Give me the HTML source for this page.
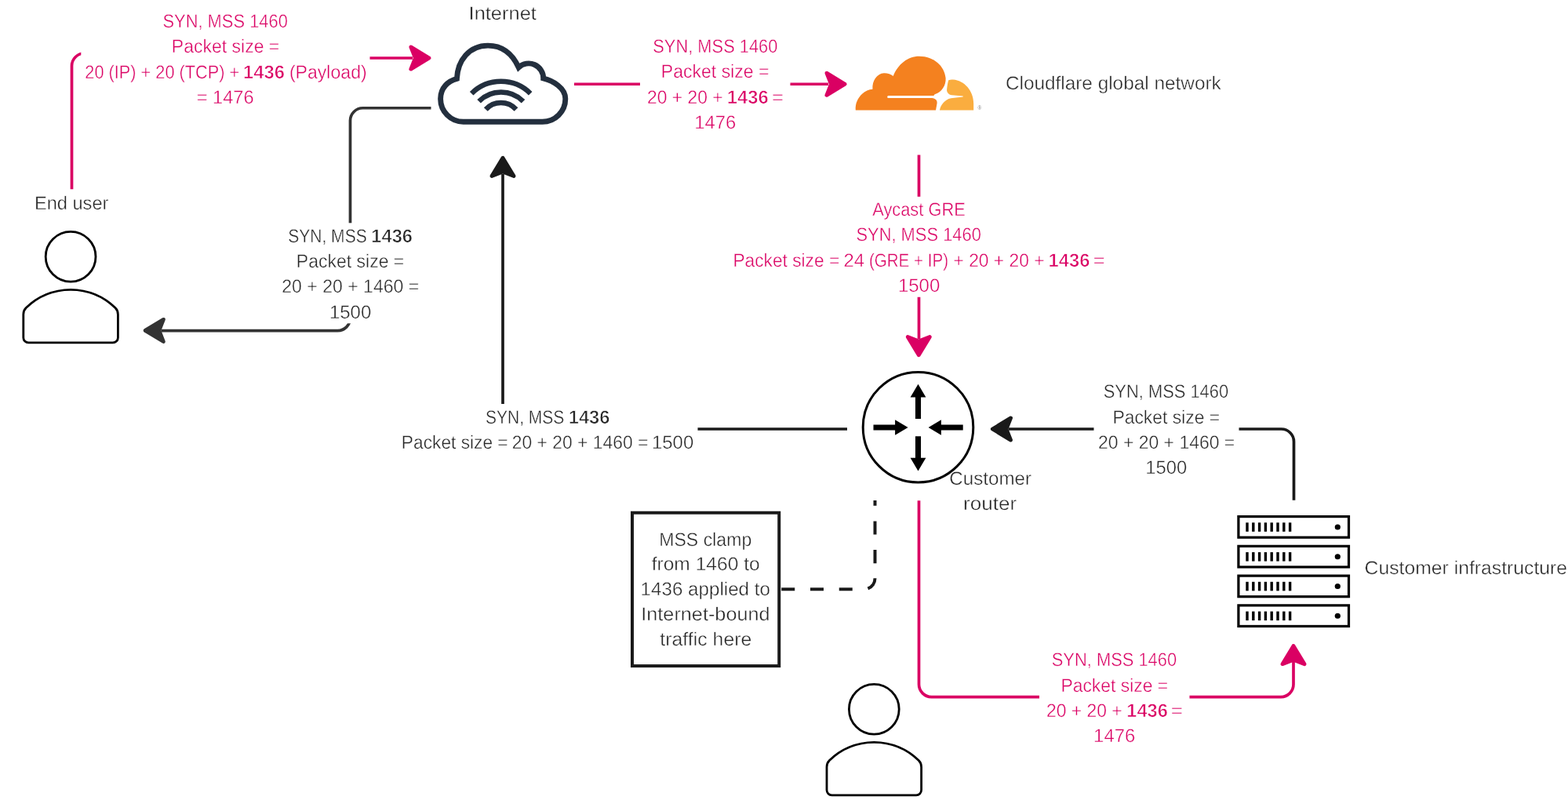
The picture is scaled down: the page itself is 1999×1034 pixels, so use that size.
<!DOCTYPE html>
<html lang="en">
<head>
<meta charset="utf-8">
<title>MSS clamping diagram</title>
<style>
html,body{margin:0;padding:0;background:#fff;}
body{width:1999px;height:1034px;overflow:hidden;}
svg{display:block;}
svg .t text{font-family:"Liberation Sans",sans-serif;font-size:23.9px;stroke:#fff;stroke-width:0.4px;text-rendering:geometricPrecision;}
svg .t tspan.b{font-weight:700;stroke-width:0.7px;}
svg{will-change:transform;}
</style>
</head>
<body>
<svg width="1999" height="1034" viewBox="0 0 1999 1034" role="img" aria-label="MSS clamping network diagram">
<rect width="1999" height="1034" fill="#fff"/>
<path d="M91.5 241.3 V84 A16 16 0 0 1 107.5 68 H120" fill="none" stroke="#DA0063" stroke-width="3.7" />
<rect x="103.3" y="40" width="30" height="40" fill="#fff"/>
<path d="M471.5 74 H526" fill="none" stroke="#DA0063" stroke-width="3.7" />
<path transform="translate(549.50 74.00) rotate(0)" d="M-2.4 0 L-25.7 -14.1 L-20.2 0 L-25.7 14.1 Z" fill="#DA0063" stroke="#DA0063" stroke-width="4.8" stroke-linejoin="round"/>
<path d="M549.5 137.75 H462.5 A16 16 0 0 0 446.5 153.75 V405.6 A16 16 0 0 1 430.5 421.6 H205.5" fill="none" stroke="#333333" stroke-width="3.7" />
<rect x="355" y="284.3" width="185" height="128" fill="#fff"/>
<path transform="translate(182.70 421.40) rotate(180)" d="M-2.4 0 L-25.7 -14.1 L-20.2 0 L-25.7 14.1 Z" fill="#333333" stroke="#333333" stroke-width="4.8" stroke-linejoin="round"/>
<path d="M732 107.25 H816" fill="none" stroke="#DA0063" stroke-width="3.7" />
<path d="M1007.5 107.25 H1056" fill="none" stroke="#DA0063" stroke-width="3.7" />
<path transform="translate(1079.60 107.25) rotate(0)" d="M-2.4 0 L-25.7 -14.1 L-20.2 0 L-25.7 14.1 Z" fill="#DA0063" stroke="#DA0063" stroke-width="4.8" stroke-linejoin="round"/>
<path d="M1171.5 197.5 V250.75" fill="none" stroke="#DA0063" stroke-width="3.7" />
<path d="M1171.5 378.75 V432" fill="none" stroke="#DA0063" stroke-width="3.7" />
<path transform="translate(1171.30 455.20) rotate(90)" d="M-2.4 0 L-25.7 -14.1 L-20.2 0 L-25.7 14.1 Z" fill="#DA0063" stroke="#DA0063" stroke-width="4.8" stroke-linejoin="round"/>
<path d="M1080 547 H889.5" fill="none" stroke="#1a1a1a" stroke-width="3.7" />
<path d="M641 515 V222" fill="none" stroke="#1a1a1a" stroke-width="3.7" />
<path transform="translate(641.00 198.80) rotate(270)" d="M-2.4 0 L-25.7 -14.1 L-20.2 0 L-25.7 14.1 Z" fill="#1a1a1a" stroke="#1a1a1a" stroke-width="4.8" stroke-linejoin="round"/>
<path d="M1649.5 637.75 V563 A16 16 0 0 0 1633.5 547 H1579.5" fill="none" stroke="#1a1a1a" stroke-width="3.7" />
<path d="M1394.5 547 H1286" fill="none" stroke="#1a1a1a" stroke-width="3.7" />
<path transform="translate(1262.90 547.00) rotate(180)" d="M-2.4 0 L-25.7 -14.1 L-20.2 0 L-25.7 14.1 Z" fill="#1a1a1a" stroke="#1a1a1a" stroke-width="4.8" stroke-linejoin="round"/>
<path d="M1171.5 638.25 V872.6 A16 16 0 0 0 1187.5 888.6 H1325" fill="none" stroke="#DA0063" stroke-width="3.7" />
<path d="M1516.5 888.6 H1633 A16 16 0 0 0 1649 872.6 V844" fill="none" stroke="#DA0063" stroke-width="3.7" />
<path transform="translate(1649.00 821.00) rotate(270)" d="M-2.4 0 L-25.7 -14.1 L-20.2 0 L-25.7 14.1 Z" fill="#DA0063" stroke="#DA0063" stroke-width="4.8" stroke-linejoin="round"/>
<path d="M996.25 751.3 H1101.5 A14 14 0 0 0 1115.5 737.3" fill="none" stroke="#1a1a1a" stroke-width="4" stroke-dasharray="17 19.75"/>
<path d="M1115.5 718.2 V700.9 M1115.5 681.6 V664.4 M1115.5 644.7 V638" fill="none" stroke="#1a1a1a" stroke-width="4"/>
<rect x="806" y="653.75" width="187.25" height="195.3" fill="#fff" stroke="#1a1a1a" stroke-width="4"/>
<g transform="translate(0 0)" fill="#fff" stroke="#000" stroke-width="2.8">
<circle cx="90.1" cy="327.3" r="31.9"/>
<path d="M29.8 401 V430.4 A6.5 6.5 0 0 0 36.3 436.9 H143.9 A6.5 6.5 0 0 0 150.4 430.4 V401 Q150.4 396 147 392.6 A81.4 81.4 0 0 0 33.2 392.6 Q29.8 396 29.8 401 Z"/>
</g>
<g transform="translate(1024.2 576.9)" fill="#fff" stroke="#000" stroke-width="2.8">
<circle cx="90.1" cy="327.3" r="31.9"/>
<path d="M29.8 401 V430.4 A6.5 6.5 0 0 0 36.3 436.9 H143.9 A6.5 6.5 0 0 0 150.4 430.4 V401 Q150.4 396 147 392.6 A81.4 81.4 0 0 0 33.2 392.6 Q29.8 396 29.8 401 Z"/>
</g>
<g transform="translate(1170.5 545)">
<circle cx="0" cy="-0.3" r="70.3" fill="#fff" stroke="#000" stroke-width="3"/>
<path d="M0 -55.2 L9.9 -38.5 H3.55 V-11.1 H-3.55 V-38.5 H-9.9 Z" fill="#000"/>
<path d="M0 55.4 L9.9 38.8 H3.55 V11.3 H-3.55 V38.8 H-9.9 Z" fill="#000"/>
<path d="M-12.9 0 L-29.4 -9.8 V-3.5 H-57 V3.5 H-29.4 V9.8 Z" fill="#000"/>
<path d="M13.1 0 L29.4 -9.8 V-3.5 H57.2 V3.5 H29.4 V9.8 Z" fill="#000"/>
</g>
<g transform="translate(0 657.00)">
<rect x="1578.9" y="1.6" width="140.6" height="26.6" fill="#fff" stroke="#000" stroke-width="3.2"/>
<rect x="1588.30" y="9.3" width="3.4" height="11.5" fill="#000"/>
<rect x="1596.10" y="9.3" width="3.4" height="11.5" fill="#000"/>
<rect x="1603.90" y="9.3" width="3.4" height="11.5" fill="#000"/>
<rect x="1611.70" y="9.3" width="3.4" height="11.5" fill="#000"/>
<rect x="1619.50" y="9.3" width="3.4" height="11.5" fill="#000"/>
<rect x="1627.30" y="9.3" width="3.4" height="11.5" fill="#000"/>
<rect x="1635.10" y="9.3" width="3.4" height="11.5" fill="#000"/>
<rect x="1642.90" y="9.3" width="3.4" height="11.5" fill="#000"/>
<circle cx="1705.3" cy="15" r="3.6" fill="#000"/>
</g>
<g transform="translate(0 694.75)">
<rect x="1578.9" y="1.6" width="140.6" height="26.6" fill="#fff" stroke="#000" stroke-width="3.2"/>
<rect x="1588.30" y="9.3" width="3.4" height="11.5" fill="#000"/>
<rect x="1596.10" y="9.3" width="3.4" height="11.5" fill="#000"/>
<rect x="1603.90" y="9.3" width="3.4" height="11.5" fill="#000"/>
<rect x="1611.70" y="9.3" width="3.4" height="11.5" fill="#000"/>
<rect x="1619.50" y="9.3" width="3.4" height="11.5" fill="#000"/>
<rect x="1627.30" y="9.3" width="3.4" height="11.5" fill="#000"/>
<rect x="1635.10" y="9.3" width="3.4" height="11.5" fill="#000"/>
<rect x="1642.90" y="9.3" width="3.4" height="11.5" fill="#000"/>
<circle cx="1705.3" cy="15" r="3.6" fill="#000"/>
</g>
<g transform="translate(0 732.50)">
<rect x="1578.9" y="1.6" width="140.6" height="26.6" fill="#fff" stroke="#000" stroke-width="3.2"/>
<rect x="1588.30" y="9.3" width="3.4" height="11.5" fill="#000"/>
<rect x="1596.10" y="9.3" width="3.4" height="11.5" fill="#000"/>
<rect x="1603.90" y="9.3" width="3.4" height="11.5" fill="#000"/>
<rect x="1611.70" y="9.3" width="3.4" height="11.5" fill="#000"/>
<rect x="1619.50" y="9.3" width="3.4" height="11.5" fill="#000"/>
<rect x="1627.30" y="9.3" width="3.4" height="11.5" fill="#000"/>
<rect x="1635.10" y="9.3" width="3.4" height="11.5" fill="#000"/>
<rect x="1642.90" y="9.3" width="3.4" height="11.5" fill="#000"/>
<circle cx="1705.3" cy="15" r="3.6" fill="#000"/>
</g>
<g transform="translate(0 770.25)">
<rect x="1578.9" y="1.6" width="140.6" height="26.6" fill="#fff" stroke="#000" stroke-width="3.2"/>
<rect x="1588.30" y="9.3" width="3.4" height="11.5" fill="#000"/>
<rect x="1596.10" y="9.3" width="3.4" height="11.5" fill="#000"/>
<rect x="1603.90" y="9.3" width="3.4" height="11.5" fill="#000"/>
<rect x="1611.70" y="9.3" width="3.4" height="11.5" fill="#000"/>
<rect x="1619.50" y="9.3" width="3.4" height="11.5" fill="#000"/>
<rect x="1627.30" y="9.3" width="3.4" height="11.5" fill="#000"/>
<rect x="1635.10" y="9.3" width="3.4" height="11.5" fill="#000"/>
<rect x="1642.90" y="9.3" width="3.4" height="11.5" fill="#000"/>
<circle cx="1705.3" cy="15" r="3.6" fill="#000"/>
</g>
<g fill="none" stroke="#232f3e">
<path stroke-width="6.9" stroke-linejoin="miter" d="M590.7 155.3 A29.3 29.3 0 0 1 561.6 126 C561.6 112 571 103.5 582.4 100.4 C583.5 77 598 58.1 622 58.1 C644 58.1 655.5 73.5 661.2 86 A18.7 18.7 0 0 1 692.7 99.9 C705 103 720.8 112 720.8 126 A29.3 29.3 0 0 1 691.5 155.3 Z"/>
<path stroke-width="6.5" d="M601.20 119.20 A53.50 53.50 0 0 1 676.20 119.20"/>
<path stroke-width="6.5" d="M610.60 129.20 A40.00 40.00 0 0 1 667.00 129.20"/>
<path stroke-width="6.5" d="M619.30 139.50 A26.40 26.40 0 0 1 658.00 139.50"/>
</g>
<g transform="translate(1080 60) scale(0.09005)">
<path fill="#F4811F" d="M120 893 C112 800 150 720 215 660 C255 625 305 600 360 597 C352 480 420 375 520 370 C570 368 620 385 652 412 C720 240 860 130 1020 130 C1230 130 1380 270 1395 440 C1402 540 1340 645 1240 668 L1225 688 L585 688 A17 17 0 0 0 585 722 L1200 722 C1250 725 1285 760 1270 810 L1255 893 Z"/>
<path fill="#FAAD3F" d="M1310 893 C1320 830 1380 740 1470 725 L1640 705 L1640 695 L1480 680 C1440 675 1405 640 1412 600 C1415 560 1425 500 1435 470 C1460 460 1480 460 1500 462 C1660 475 1790 620 1790 800 L1790 893 Z"/>
</g>
<text x="1246.6" y="139.6" style="font-family:'Liberation Sans',sans-serif;font-size:6.5px" fill="#8a8a8a">®</text>
<g class="t">
<text y="35" fill="#DA0063"><tspan x="207.45" textLength="159.41" lengthAdjust="spacingAndGlyphs">SYN, MSS 1460</tspan></text>
<text y="67" fill="#DA0063"><tspan x="218.87" textLength="137.38" lengthAdjust="spacingAndGlyphs">Packet size =</tspan></text>
<text y="100" fill="#DA0063"><tspan x="108.37" textLength="196.86" lengthAdjust="spacingAndGlyphs">20 (IP) + 20 (TCP) +</tspan> <tspan x="310.10" textLength="52.85" lengthAdjust="spacingAndGlyphs" class="b">1436</tspan> <tspan x="368.95" textLength="98.70" lengthAdjust="spacingAndGlyphs">(Payload)</tspan></text>
<text y="132" fill="#DA0063"><tspan x="250.71" textLength="72.89" lengthAdjust="spacingAndGlyphs">= 1476</tspan></text>
<text y="25" fill="#262626"><tspan x="597.57" textLength="86.35" lengthAdjust="spacingAndGlyphs">Internet</tspan></text>
<text y="67" fill="#DA0063"><tspan x="832.21" textLength="159.26" lengthAdjust="spacingAndGlyphs">SYN, MSS 1460</tspan></text>
<text y="99" fill="#DA0063"><tspan x="842.86" textLength="137.60" lengthAdjust="spacingAndGlyphs">Packet size =</tspan></text>
<text y="132" fill="#DA0063"><tspan x="824.92" textLength="96.74" lengthAdjust="spacingAndGlyphs">20 + 20 +</tspan> <tspan x="926.73" textLength="53.05" lengthAdjust="spacingAndGlyphs" class="b">1436</tspan> <tspan x="983.97" textLength="15.04" lengthAdjust="spacingAndGlyphs">=</tspan></text>
<text y="164" fill="#DA0063"><tspan x="885.27" textLength="53.14" lengthAdjust="spacingAndGlyphs">1476</tspan></text>
<text y="114" fill="#262626"><tspan x="1281.90" textLength="274.83" lengthAdjust="spacingAndGlyphs">Cloudflare global network</tspan></text>
<text y="267" fill="#262626"><tspan x="43.91" textLength="94.51" lengthAdjust="spacingAndGlyphs">End user</tspan></text>
<text y="309" fill="#262626"><tspan x="367.16" textLength="100.55" lengthAdjust="spacingAndGlyphs">SYN, MSS</tspan> <tspan x="473.37" textLength="52.63" lengthAdjust="spacingAndGlyphs" class="b">1436</tspan></text>
<text y="341" fill="#262626"><tspan x="377.87" textLength="137.38" lengthAdjust="spacingAndGlyphs">Packet size =</tspan></text>
<text y="373" fill="#262626"><tspan x="359.22" textLength="175.11" lengthAdjust="spacingAndGlyphs">20 + 20 + 1460 =</tspan></text>
<text y="406" fill="#262626"><tspan x="419.96" textLength="53.31" lengthAdjust="spacingAndGlyphs">1500</tspan></text>
<text y="275" fill="#DA0063"><tspan x="1112.23" textLength="118.53" lengthAdjust="spacingAndGlyphs">Aycast GRE</tspan></text>
<text y="307" fill="#DA0063"><tspan x="1091.45" textLength="159.41" lengthAdjust="spacingAndGlyphs">SYN, MSS 1460</tspan></text>
<text y="340" fill="#DA0063"><tspan x="934.39" textLength="135.77" lengthAdjust="spacingAndGlyphs">Packet size =</tspan> <tspan x="1075.49" textLength="26.57" lengthAdjust="spacingAndGlyphs">24</tspan> <tspan x="1107.98" textLength="101.00" lengthAdjust="spacingAndGlyphs">(GRE + IP)</tspan> <tspan x="1215.52" textLength="115.97" lengthAdjust="spacingAndGlyphs">+ 20 + 20 +</tspan> <tspan x="1336.53" textLength="52.83" lengthAdjust="spacingAndGlyphs" class="b">1436</tspan> <tspan x="1393.88" textLength="14.73" lengthAdjust="spacingAndGlyphs">=</tspan></text>
<text y="372" fill="#DA0063"><tspan x="1144.96" textLength="53.31" lengthAdjust="spacingAndGlyphs">1500</tspan></text>
<text y="540" fill="#262626"><tspan x="618.91" textLength="100.47" lengthAdjust="spacingAndGlyphs">SYN, MSS</tspan> <tspan x="724.73" textLength="52.80" lengthAdjust="spacingAndGlyphs" class="b">1436</tspan></text>
<text y="572" fill="#262626"><tspan x="511.87" textLength="135.78" lengthAdjust="spacingAndGlyphs">Packet size =</tspan> <tspan x="652.69" textLength="173.81" lengthAdjust="spacingAndGlyphs">20 + 20 + 1460 =</tspan> <tspan x="830.96" textLength="53.31" lengthAdjust="spacingAndGlyphs">1500</tspan></text>
<text y="507" fill="#262626"><tspan x="1406.77" textLength="159.33" lengthAdjust="spacingAndGlyphs">SYN, MSS 1460</tspan></text>
<text y="540" fill="#262626"><tspan x="1418.38" textLength="136.81" lengthAdjust="spacingAndGlyphs">Packet size =</tspan></text>
<text y="572" fill="#262626"><tspan x="1399.97" textLength="174.28" lengthAdjust="spacingAndGlyphs">20 + 20 + 1460 =</tspan></text>
<text y="604" fill="#262626"><tspan x="1460.27" textLength="52.97" lengthAdjust="spacingAndGlyphs">1500</tspan></text>
<text y="618" fill="#262626"><tspan x="1210.29" textLength="104.78" lengthAdjust="spacingAndGlyphs">Customer</tspan></text>
<text y="650" fill="#262626"><tspan x="1228.08" textLength="68.21" lengthAdjust="spacingAndGlyphs">router</tspan></text>
<text y="696" fill="#262626"><tspan x="840.26" textLength="117.98" lengthAdjust="spacingAndGlyphs">MSS clamp</tspan></text>
<text y="727" fill="#262626"><tspan x="830.71" textLength="137.95" lengthAdjust="spacingAndGlyphs">from 1460 to</tspan></text>
<text y="759" fill="#262626"><tspan x="816.61" textLength="165.29" lengthAdjust="spacingAndGlyphs">1436 applied to</tspan></text>
<text y="791" fill="#262626"><tspan x="817.25" textLength="164.35" lengthAdjust="spacingAndGlyphs">Internet-bound</tspan></text>
<text y="823" fill="#262626"><tspan x="841.28" textLength="117.10" lengthAdjust="spacingAndGlyphs">traffic here</tspan></text>
<text y="849" fill="#DA0063"><tspan x="1340.77" textLength="159.33" lengthAdjust="spacingAndGlyphs">SYN, MSS 1460</tspan></text>
<text y="882" fill="#DA0063"><tspan x="1352.38" textLength="136.81" lengthAdjust="spacingAndGlyphs">Packet size =</tspan></text>
<text y="914" fill="#DA0063"><tspan x="1333.92" textLength="96.74" lengthAdjust="spacingAndGlyphs">20 + 20 +</tspan> <tspan x="1436.34" textLength="52.56" lengthAdjust="spacingAndGlyphs" class="b">1436</tspan> <tspan x="1492.82" textLength="15.23" lengthAdjust="spacingAndGlyphs">=</tspan></text>
<text y="946" fill="#DA0063"><tspan x="1394.12" textLength="53.18" lengthAdjust="spacingAndGlyphs">1476</tspan></text>
<text y="732" fill="#262626"><tspan x="1739.60" textLength="258.49" lengthAdjust="spacingAndGlyphs">Customer infrastructure</tspan></text>
</g>
</svg>
</body>
</html>
